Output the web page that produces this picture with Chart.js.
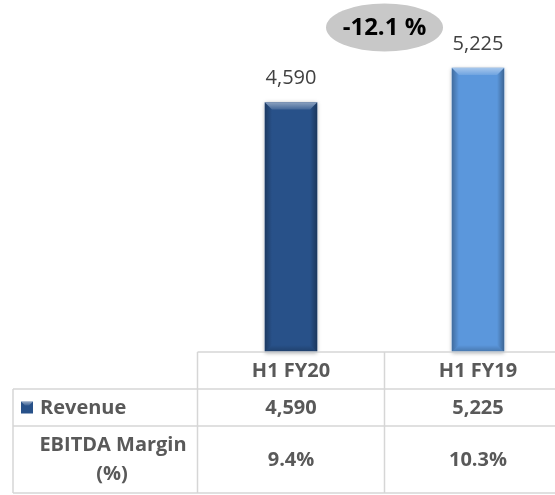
<!DOCTYPE html>
<html>
<head>
<meta charset="utf-8">
<script src="https://cdn.jsdelivr.net/npm/chart.js@4/dist/chart.umd.min.js"></script>
<style>
  html, body { margin: 0; padding: 0; background: #ffffff; overflow: hidden; }
  #wrap { width: 555px; height: 495px; position: relative; }
</style>
</head>
<body>
<div id="wrap"><canvas id="c" width="555" height="495"></canvas></div>
<script>
// ---- data ----
const categories = ['H1 FY20', 'H1 FY19'];
const revenue = [4590, 5225];
const ebitdaMargin = ['9.4%', '10.3%'];
const barColors = ['#285189', '#5b97dc'];
const changeLabel = '-12.1 %';
const seriesName = 'Revenue';
const rowLabel2 = ['EBITDA Margin', '(%)'];
const yMax = 6000;

const fmt = v => v.toLocaleString('en-US');
const TEXT_GRAY = '#595959';
const LINE_GRAY = '#d6d6d6';

const bevelPlugin = {
  id: 'bevel',
  beforeDatasetDraw(chart) {
    const ctx = chart.ctx;
    ctx.save();
    ctx.shadowColor = 'rgba(0,0,0,0.35)';
    ctx.shadowBlur = 4;
    ctx.shadowOffsetX = 0;
    ctx.shadowOffsetY = 1;
  },
  afterDatasetDraw(chart, args) {
    const ctx = chart.ctx;
    ctx.restore();
    const meta = args.meta;
    meta.data.forEach(bar => {
      const w = bar.width;
      const l = bar.x - w / 2, r = bar.x + w / 2;
      const t = bar.y, b = bar.base;
      const bv = 7;
      ctx.save();
      let g = ctx.createLinearGradient(l, 0, l + bv, 0);
      g.addColorStop(0, 'rgba(0,0,0,0.28)');
      g.addColorStop(1, 'rgba(0,0,0,0.0)');
      ctx.fillStyle = g;
      ctx.beginPath();
      ctx.moveTo(l, t); ctx.lineTo(l + bv, t + bv); ctx.lineTo(l + bv, b - bv); ctx.lineTo(l, b); ctx.closePath();
      ctx.fill();
      g = ctx.createLinearGradient(r, 0, r - bv, 0);
      g.addColorStop(0, 'rgba(0,0,0,0.32)');
      g.addColorStop(1, 'rgba(0,0,0,0.0)');
      ctx.fillStyle = g;
      ctx.beginPath();
      ctx.moveTo(r, t); ctx.lineTo(r - bv, t + bv); ctx.lineTo(r - bv, b - bv); ctx.lineTo(r, b); ctx.closePath();
      ctx.fill();
      g = ctx.createLinearGradient(0, t, 0, t + bv);
      g.addColorStop(0, 'rgba(255,255,255,0.45)');
      g.addColorStop(1, 'rgba(255,255,255,0.12)');
      ctx.fillStyle = g;
      ctx.beginPath();
      ctx.moveTo(l, t); ctx.lineTo(r, t); ctx.lineTo(r - bv, t + bv); ctx.lineTo(l + bv, t + bv); ctx.closePath();
      ctx.fill();
      g = ctx.createLinearGradient(0, b, 0, b - bv);
      g.addColorStop(0, 'rgba(0,0,0,0.22)');
      g.addColorStop(1, 'rgba(0,0,0,0.0)');
      ctx.fillStyle = g;
      ctx.beginPath();
      ctx.moveTo(l, b); ctx.lineTo(r, b); ctx.lineTo(r - bv, b - bv); ctx.lineTo(l + bv, b - bv); ctx.closePath();
      ctx.fill();
      ctx.restore();
    });
  }
};

const decorPlugin = {
  id: 'decor',
  afterDraw(chart) {
    const ctx = chart.ctx;
    const meta = chart.getDatasetMeta(0);
    const xs = chart.scales.x;
    const area = chart.chartArea;

    ctx.save();
    ctx.font = '20px "Open Sans"';
    ctx.fillStyle = '#404040';
    ctx.textAlign = 'center';
    ctx.textBaseline = 'middle';
    meta.data.forEach((bar, i) => {
      ctx.fillText(fmt(revenue[i]), bar.x, bar.y - 24);
    });
    ctx.restore();

    const cx = (meta.data[0].x + meta.data[1].x) / 2;
    const cy = 27.5;
    ctx.save();
    ctx.fillStyle = '#c8c8c8';
    ctx.beginPath();
    ctx.ellipse(cx, cy, 58.5, 24, 0, 0, Math.PI * 2);
    ctx.fill();
    ctx.font = 'bold 24px "Open Sans"';
    ctx.fillStyle = '#000000';
    ctx.textAlign = 'center';
    ctx.textBaseline = 'middle';
    ctx.fillText(changeLabel, cx, cy + 1);
    ctx.restore();

    const p0 = xs.getPixelForValue(0), p1 = xs.getPixelForValue(1);
    const half = (p1 - p0) / 2;
    const colL = p0 - half, colM = p0 + half;
    const rightEdge = chart.width;
    const leftEdge = 13;
    const yTop = area.bottom;
    const yR1 = 389, yR2 = 426, yBot = 493;

    ctx.save();
    ctx.strokeStyle = LINE_GRAY;
    ctx.lineWidth = 1.5;
    ctx.beginPath();
    ctx.moveTo(colL, yTop); ctx.lineTo(rightEdge, yTop);
    ctx.moveTo(leftEdge, yR1); ctx.lineTo(rightEdge, yR1);
    ctx.moveTo(leftEdge, yR2); ctx.lineTo(rightEdge, yR2);
    ctx.moveTo(leftEdge, yBot); ctx.lineTo(rightEdge, yBot);
    ctx.moveTo(colL, yTop); ctx.lineTo(colL, yBot);
    ctx.moveTo(colM, yTop); ctx.lineTo(colM, yBot);
    ctx.moveTo(leftEdge, yR1); ctx.lineTo(leftEdge, yBot);
    ctx.stroke();

    ctx.font = 'bold 20px "Open Sans"';
    ctx.fillStyle = TEXT_GRAY;
    ctx.textAlign = 'center';
    ctx.textBaseline = 'middle';
    const xc = [p0, p1];
    categories.forEach((c, i) => ctx.fillText(c, xc[i], (yTop + yR1) / 2 + 1));
    revenue.forEach((v, i) => ctx.fillText(fmt(v), xc[i], (yR1 + yR2) / 2 + 1));
    ebitdaMargin.forEach((v, i) => ctx.fillText(v, xc[i], (yR2 + yBot) / 2 + 1));

    const midR1 = (yR1 + yR2) / 2;
    const kx = 21, ky = midR1 - 6, ks = 12;
    ctx.fillStyle = barColors[0];
    ctx.fillRect(kx, ky, ks, ks);
    let g = ctx.createLinearGradient(0, ky, 0, ky + 4);
    g.addColorStop(0, 'rgba(255,255,255,0.5)');
    g.addColorStop(1, 'rgba(255,255,255,0.1)');
    ctx.fillStyle = g;
    ctx.beginPath();
    ctx.moveTo(kx, ky); ctx.lineTo(kx + ks, ky); ctx.lineTo(kx + ks - 4, ky + 4); ctx.lineTo(kx + 4, ky + 4); ctx.closePath();
    ctx.fill();

    ctx.fillStyle = TEXT_GRAY;
    ctx.textAlign = 'left';
    ctx.fillText(seriesName, 40, midR1 + 1);
    ctx.textAlign = 'center';
    const midR2 = (yR2 + yBot) / 2;
    ctx.fillText(rowLabel2[0], 113, midR2 - 14);
    ctx.fillText(rowLabel2[1], 112, midR2 + 15);
    ctx.restore();
  }
};

new Chart(document.getElementById('c'), {
  type: 'bar',
  data: {
    labels: categories,
    datasets: [{
      label: seriesName,
      data: revenue,
      backgroundColor: barColors,
      borderWidth: 0,
      barThickness: 52,
      clip: false
    }]
  },
  options: {
    responsive: false,
    animation: false,
    devicePixelRatio: 1,
    layout: { padding: { left: 291, right: 77, top: 26, bottom: 143 } },
    plugins: {
      legend: { display: false },
      tooltip: { enabled: false }
    },
    scales: {
      x: { display: false, offset: false, grid: { display: false } },
      y: { display: false, min: 0, max: yMax, grid: { display: false } }
    }
  },
  plugins: [bevelPlugin, decorPlugin]
});
</script>
</body>
</html>
